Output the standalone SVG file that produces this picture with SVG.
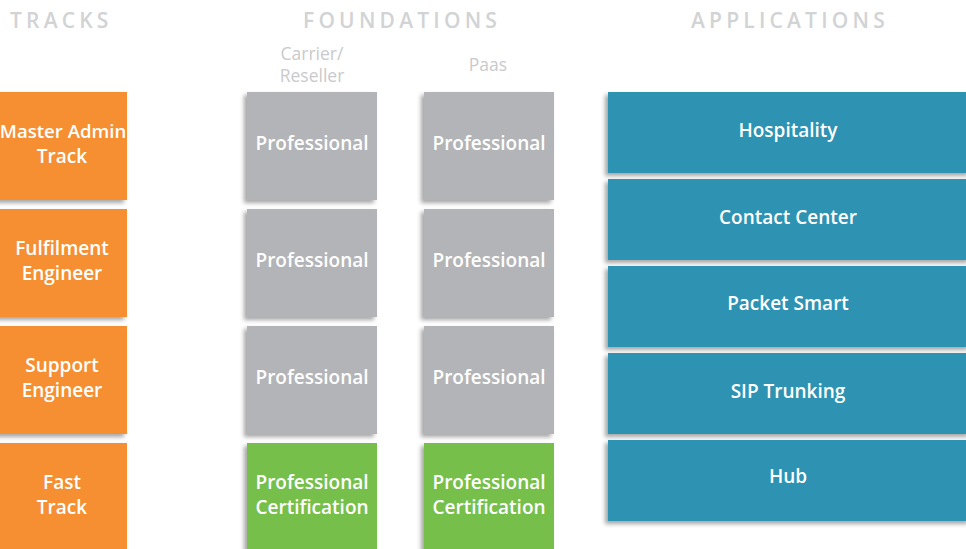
<svg xmlns="http://www.w3.org/2000/svg" width="966" height="549" viewBox="0 0 966 549">
<defs>
<filter id="sh" x="-10%" y="-10%" width="120%" height="125%">
<feDropShadow dx="-3" dy="3" stdDeviation="2" flood-color="#000" flood-opacity="0.35"/>
</filter>
<style>
.hd{font-family:"Open Sans","DejaVu Sans",sans-serif;font-size:21px;font-weight:600;fill:#d1d3d4;letter-spacing:4.2px}
.sub{font-family:"Open Sans","DejaVu Sans",sans-serif;font-size:17.5px;font-weight:500;fill:#c9cacc;text-anchor:middle}
.t{font-family:"Open Sans","DejaVu Sans",sans-serif;font-size:19px;font-weight:600;fill:#fff;text-anchor:middle}
.or{fill:#f58f33;filter:url(#sh)}
.gr{fill:#b3b4b7;filter:url(#sh)}
.gn{fill:#76bf4b;filter:url(#sh)}
.bl{fill:#2f92b2;filter:url(#sh)}
</style>
</defs>
<rect width="966" height="549" fill="#fff"/>
<g id="headers">
<text class="hd" x="10" y="28">TRACKS</text>
<text class="hd" x="303" y="28">FOUNDATIONS</text>
<text class="hd" x="691" y="28">APPLICATIONS</text>
<text class="sub" x="312" y="60">Carrier/</text>
<text class="sub" x="312" y="82">Reseller</text>
<text class="sub" x="488" y="71">Paas</text>
</g>
<g id="connectors"></g>
<g id="track-master"><rect class="or" x="-5" y="92" width="132" height="108"/><text class="t" x="63" y="138" style="font-size:18.6px">Master Admin</text><text class="t" x="62" y="163">Track</text></g>
<g id="track-fulfilment"><rect class="or" x="-5" y="209" width="132" height="108"/><text class="t" x="62" y="255">Fulfilment</text><text class="t" x="62" y="280">Engineer</text></g>
<g id="track-support"><rect class="or" x="-5" y="326" width="132" height="108"/><text class="t" x="62" y="372">Support</text><text class="t" x="62" y="397">Engineer</text></g>
<g id="track-fast"><rect class="or" x="-5" y="443" width="132" height="110"/><text class="t" x="62" y="489">Fast</text><text class="t" x="62" y="514">Track</text></g>
<g id="carrier-1"><rect class="gr" x="247" y="92" width="130" height="108"/><text class="t" x="312" y="150">Professional</text></g>
<g id="carrier-2"><rect class="gr" x="247" y="209" width="130" height="108"/><text class="t" x="312" y="267">Professional</text></g>
<g id="carrier-3"><rect class="gr" x="247" y="326" width="130" height="108"/><text class="t" x="312" y="384">Professional</text></g>
<g id="carrier-4"><rect class="gn" x="247" y="443" width="130" height="110"/><text class="t" x="312" y="489">Professional</text><text class="t" x="312" y="514">Certification</text></g>
<g id="paas-1"><rect class="gr" x="424" y="92" width="130" height="108"/><text class="t" x="489" y="150">Professional</text></g>
<g id="paas-2"><rect class="gr" x="424" y="209" width="130" height="108"/><text class="t" x="489" y="267">Professional</text></g>
<g id="paas-3"><rect class="gr" x="424" y="326" width="130" height="108"/><text class="t" x="489" y="384">Professional</text></g>
<g id="paas-4"><rect class="gn" x="424" y="443" width="130" height="110"/><text class="t" x="489" y="489">Professional</text><text class="t" x="489" y="514">Certification</text></g>
<g id="app-hospitality"><rect class="bl" x="608" y="92" width="363" height="81"/><text class="t" x="788" y="137">Hospitality</text></g>
<g id="app-contact"><rect class="bl" x="608" y="179" width="363" height="81"/><text class="t" x="788" y="224">Contact Center</text></g>
<g id="app-packet"><rect class="bl" x="608" y="266" width="363" height="81"/><text class="t" x="788" y="310">Packet Smart</text></g>
<g id="app-sip"><rect class="bl" x="608" y="353" width="363" height="81"/><text class="t" x="788" y="398">SIP Trunking</text></g>
<g id="app-hub"><rect class="bl" x="608" y="440" width="363" height="81"/><text class="t" x="788" y="483">Hub</text></g>
</svg>
